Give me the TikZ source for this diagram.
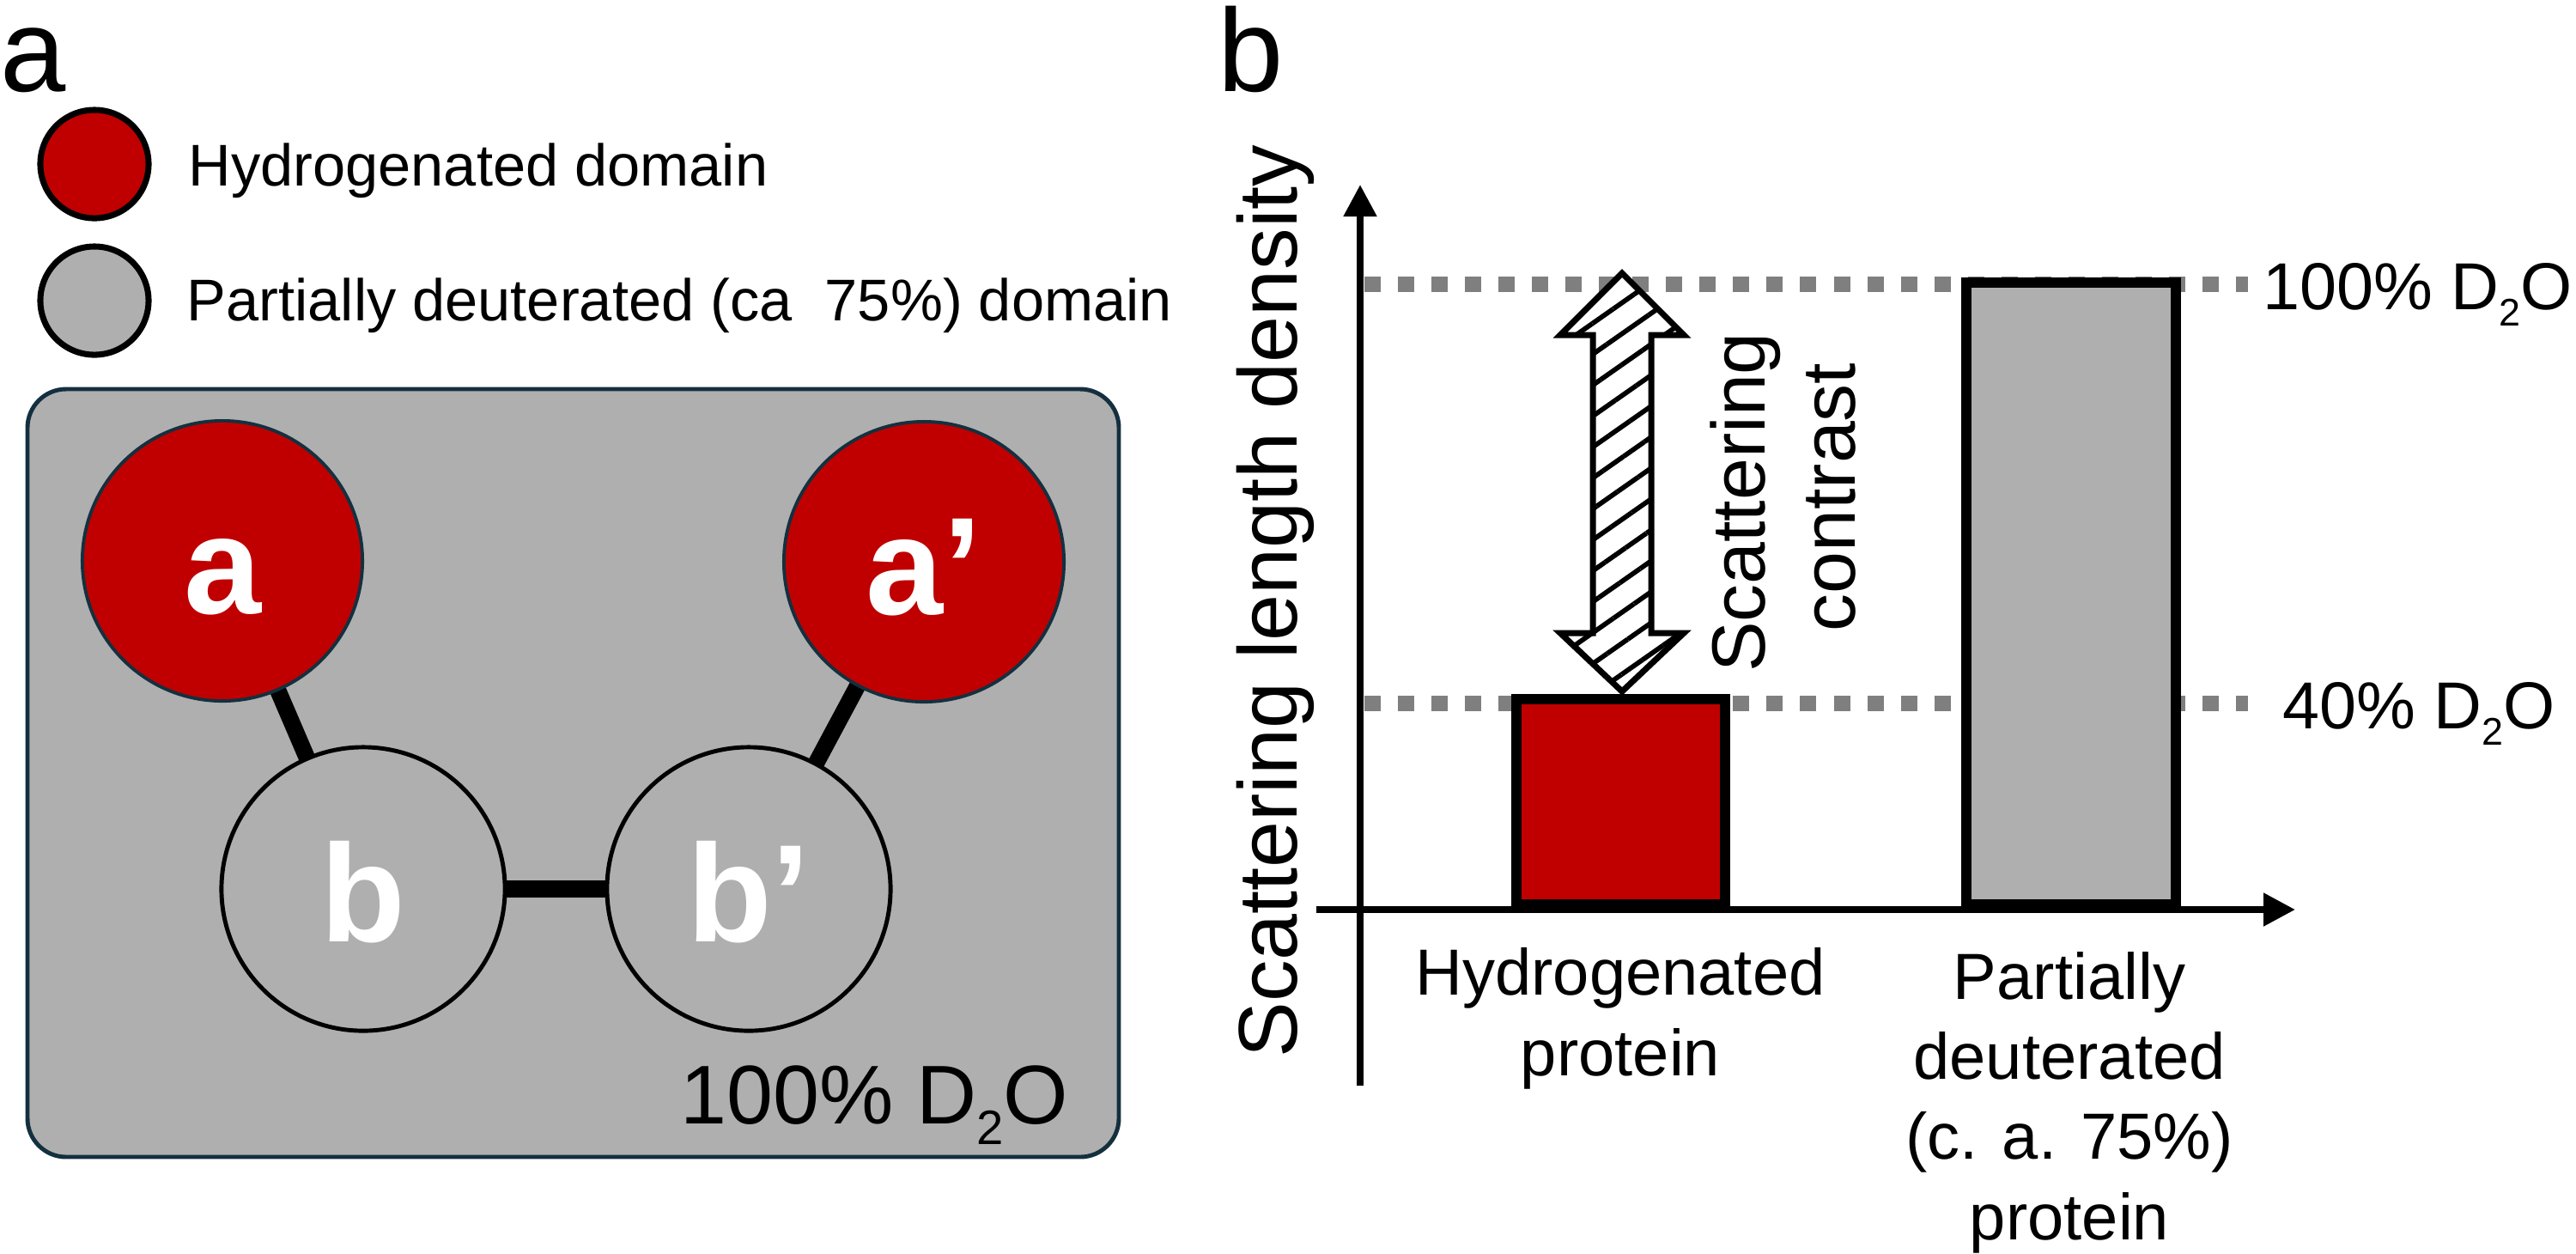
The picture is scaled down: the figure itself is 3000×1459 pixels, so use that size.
\documentclass[tikz,border=0pt]{standalone}
\usepackage{fontspec}
\setmainfont{Liberation Sans}
\usetikzlibrary{arrows.meta,patterns.meta}
\definecolor{dred}{HTML}{C00000}
\definecolor{lgray}{HTML}{AFAFAF}
\definecolor{navy}{HTML}{14303F}
\definecolor{dashgray}{HTML}{7F7F7F}
\newcommand{\subtwo}{\raisebox{-0.25em}{\scalebox{0.58}{2}}}
\pgfdeclarelayer{boxlayer}
\pgfdeclarelayer{connlayer}
\pgfsetlayers{boxlayer,connlayer,main}
\begin{document}
\begin{tikzpicture}[x=0.01cm,y=-0.01cm,
  panellab/.style={inner sep=0pt,anchor=base west,font=\fontsize{39pt}{46pt}\selectfont},
  legcirc/.style={circle,draw=black,line width=2pt,minimum size=1.26cm,inner sep=0pt},
  legtext/.style={inner sep=0pt,anchor=base west,font=\fontsize{19.5pt}{24pt}\selectfont},
  hdom/.style={circle,fill=dred,draw=navy,line width=1.1pt,minimum size=3.26cm,inner sep=0pt,
     text=white,font=\fontsize{46pt}{50pt}\selectfont\bfseries,text height=1.22cm,text depth=0pt},
  ddom/.style={hdom,fill=lgray,draw=black,line width=1.4pt,minimum size=3.3cm},
  link/.style={line width=5.5pt,draw=black},
  axisline/.style={line width=2.3pt,-{Triangle[width=0.37cm,length=0.37cm]}},
  dline/.style={draw=dashgray,line width=5.1pt,dash pattern=on 5.4pt off 5.7pt},
  barbox/.style={draw=black,line width=3.4pt},
  levlab/.style={inner sep=0pt,anchor=base west,font=\fontsize{22pt}{26pt}\selectfont},
  catlab/.style={inner sep=0pt,anchor=base,align=center,font=\fontsize{21.6pt}{26.5pt}\selectfont},
  rotlab/.style={inner sep=0pt,anchor=base,rotate=90},
]
\useasboundingbox (0,0) rectangle (3000,1459);

% ---------- panel a ----------
\node[panellab] (pa) at (0,106) {a};
\node[legcirc,fill=dred] (lh) at (110,191) {};
\node[legtext] (lht) at (219,216) {Hydrogenated domain};
\node[legcirc,fill=lgray] (lp) at (110,350) {};
\node[legtext] (lpt) at (217,373) {Partially deuterated (ca\ \ 75\%) domain};

\begin{pgfonlayer}{boxlayer}
\draw[fill=lgray,draw=navy,line width=1.4pt,rounded corners=0.45cm] (32,453) rectangle (1303,1347);
\end{pgfonlayer}

\node[hdom] (da) at (259,653) {a};
\node[hdom] (da2) at (1076,654) {a’};
\node[ddom] (db) at (423,1035) {b};
\node[ddom] (db2) at (872,1035) {b’};

\begin{pgfonlayer}{connlayer}
\draw[link] (da.center) -- (db.center);
\draw[link] (db.center) -- (db2.center);
\draw[link] (da2.center) -- (db2.center);
\end{pgfonlayer}

\node[inner sep=0pt,anchor=base east,font=\fontsize{27.6pt}{32pt}\selectfont] (boxlab) at (1245,1308) {100\% D\subtwo O};

% ---------- panel b ----------
\node[panellab] (pb) at (1418,106) {b};

\coordinate (l100s) at (1589,331);
\coordinate (l100e) at (2618,331);
\coordinate (l40s) at (1589,819);
\coordinate (l40e) at (2618,819);
\draw[dline] (l100s) -- (l100e);
\draw[dline] (l40s) -- (l40e);

\draw[barbox,fill=dred] (1766,814) rectangle (2009,1053);
\draw[barbox,fill=lgray] (2289.5,328.5) rectangle (2533.5,1053);

\coordinate (ybot) at (1584,1264);
\coordinate (ytop) at (1584,215);
\coordinate (xleft) at (1533,1059);
\coordinate (xright) at (2673,1059);
\draw[axisline] (ybot) -- (ytop);
\draw[axisline] (xleft) -- (xright);

% double block arrow
\draw[line width=2pt,line join=miter,preaction={fill=white},
      pattern={Lines[angle=35,distance=0.295cm,line width=1.6pt]}]
  (1889,318) -- (1961,390) -- (1923,390) -- (1923,737) -- (1961,737) -- (1889,805)
  -- (1817,737) -- (1855,737) -- (1855,390) -- (1817,390) -- cycle;

\node[rotlab,font=\fontsize{25pt}{30pt}\selectfont] (sc1) at (2055,585) {Scattering};
\node[rotlab,font=\fontsize{25pt}{30pt}\selectfont] (sc2) at (2160,579) {contrast};

\node[rotlab,font=\fontsize{27.6pt}{32pt}\selectfont] (ylab) at (1510,700) {Scattering length density};

\node[levlab] (lab100) at (2635,360) {100\% D\subtwo O};
\node[levlab] (lab40) at (2658,848) {40\% D\subtwo O};

\node[catlab] (cat1) at (1887,1252) {Hydrogenated\\protein};
\node[catlab] (cat2) at (2410,1443) {Partially\\deuterated\\(c. a. 75\%)\\protein};
\end{tikzpicture}
\end{document}
